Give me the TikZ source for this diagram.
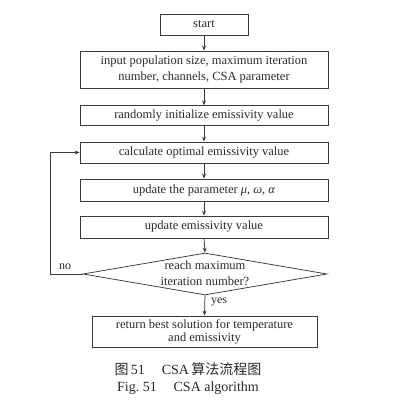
\documentclass[tikz,border=0pt]{standalone}
\usepackage{fontspec}
\setmainfont{Liberation Serif}
\newfontfamily\cjk{Noto Sans CJK SC}
\usetikzlibrary{arrows.meta,shapes.geometric}
\definecolor{lc}{HTML}{3A3A3A}
\definecolor{tc}{HTML}{2A2A2A}
\tikzset{
  box/.style={draw=lc,line width=0.75pt,rectangle,inner sep=0pt,align=center,text=tc,font=\fontsize{12.5}{15}\selectfont},
  arr/.style={draw=lc,line width=0.75pt,-{Stealth[length=5pt,width=3.8pt]}},
  lbl/.style={text=tc,font=\fontsize{12}{14}\selectfont,inner sep=0pt},
  captext/.style={text=tc,font=\fontsize{14}{16}\selectfont,inner sep=0pt}
}
\begin{document}
\begin{tikzpicture}[x=1pt,y=-1pt]
\useasboundingbox[fill=white] (0,0) rectangle (400,406);
\node[box,minimum width=88pt,minimum height=21pt] (start) at (204,24.5) {start};
\node[box,minimum width=248pt,minimum height=37pt,font=\fontsize{12.5}{16}\selectfont] (input) at (204,69.5) {input population size, maximum iteration\\number, channels, CSA parameter};
\node[box,minimum width=248pt,minimum height=19.5pt] (rand) at (204,115.5) {randomly initialize emissivity value};
\node[box,minimum width=248pt,minimum height=21pt] (calc) at (204,152.5) {calculate optimal emissivity value};
\node[box,minimum width=248pt,minimum height=22pt] (upp) at (204,190) {update the parameter {\itshape μ}, {\itshape ω}, {\itshape α}};
\node[box,minimum width=248pt,minimum height=22pt] (upe) at (204,227) {update emissivity value};
\node[draw=lc,line width=0.75pt,diamond,inner sep=0pt,minimum width=244pt,minimum height=42pt] (dia) at (205,274) {};
\node[lbl,align=center,font=\fontsize{12.5}{16}\selectfont] (diat) at (205,273.5) {reach maximum\\iteration number?};
\node[box,minimum width=225pt,minimum height=31pt,font=\fontsize{12.5}{13}\selectfont] (ret) at (204.5,331.5) {return best solution for temperature\\and emissivity};
\coordinate (lp) at (50,274);
\draw[arr] (start) -- (input);
\draw[arr] (input) -- (rand);
\draw[arr] (rand) -- (calc);
\draw[arr] (calc) -- (upp);
\draw[arr] (upp) -- (upe);
\draw[arr] (upe.south) -- (dia.north);
\draw[arr] (dia.south) -- (ret.north);
\draw[arr] (dia.west) -- (lp) |- (calc.west);
\node[lbl] (no) at (65,267) {no};
\node[lbl] (yes) at (219,302) {yes};
\node[captext] (c1) at (188,369) {{\cjk 图}\,51\hspace{1.2em}CSA\,{\cjk 算法流程图}};
\node[captext] (c2) at (188,388) {Fig.\ 51\hspace{1.2em}CSA algorithm};
\end{tikzpicture}
\end{document}
